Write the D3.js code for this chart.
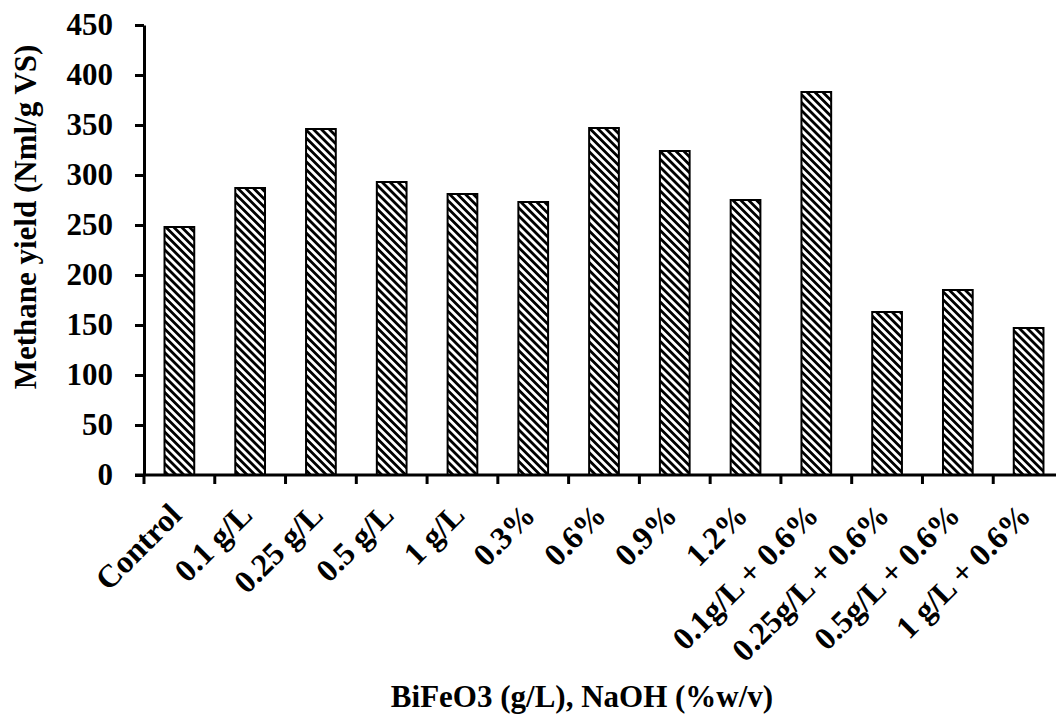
<!DOCTYPE html>
<html>
<head>
<meta charset="utf-8">
<script src="https://cdn.jsdelivr.net/npm/d3@7"></script>
<style>
  body { margin: 0; background: #fff; }
  svg text { font-family: "Liberation Serif", "Times New Roman", serif; font-weight: bold; fill: #000; }
</style>
</head>
<body>
<script>
var width = 1056;
var height = 721;

// data
var categories = ['Control', '0.1 g/L', '0.25 g/L', '0.5 g/L', '1 g/L', '0.3%', '0.6%', '0.9%', '1.2%',
                  '0.1g/L + 0.6%', '0.25g/L + 0.6%', '0.5g/L + 0.6%', '1 g/L + 0.6%'];
var methaneYield = [248, 287, 346, 293, 281, 273, 347, 324, 275, 383, 163, 185, 147];
var yTicks = [0, 50, 100, 150, 200, 250, 300, 350, 400, 450];

var svg = d3.select('body').append('svg')
            .attr('width', width)
            .attr('height', height);

// hatch pattern, "\" stripes
var pat = svg.append('defs').append('pattern')
    .attr('id', 'hatch')
    .attr('patternUnits', 'userSpaceOnUse')
    .attr('width', 5.6)
    .attr('height', 8)
    .attr('patternTransform', 'rotate(-45)');
pat.append('rect').attr('width', 5.6).attr('height', 8).attr('fill', '#fff');
pat.append('rect').attr('width', 2.8).attr('height', 8).attr('fill', '#000');

// the plot runs past the right edge of the picture
var x = d3.scaleBand()
    .domain(categories)
    .range([144, 1064]);

var y = d3.scaleLinear()
    .domain([0, 450])
    .range([475, 25]);

var barW = x.bandwidth() * 0.42;

// bars
svg.append('g').selectAll('rect')
    .data(methaneYield)
    .enter().append('rect')
      .attr('x', function(d, i) { return x(categories[i]) + (x.bandwidth() - barW) / 2; })
      .attr('y', function(d) { return y(d); })
      .attr('width', barW)
      .attr('height', function(d) { return y(0) - y(d); })
      .attr('fill', 'url(#hatch)')
      .attr('stroke', '#000')
      .attr('stroke-width', 2);

// y axis
var yAxis = svg.append('g')
    .attr('transform', 'translate(144,0)')
    .call(d3.axisLeft(y).tickValues(yTicks).tickSize(9).tickSizeOuter(0).tickPadding(22));
yAxis.select('.domain').attr('stroke-width', 3);
yAxis.selectAll('.tick line').attr('stroke-width', 3);
yAxis.selectAll('.tick text')
    .style('font-size', '31px')
    .style('font-family', '"Liberation Serif", serif')
    .style('font-weight', 'bold');

// x axis line with boundary ticks
svg.append('line')
    .attr('x1', 135).attr('x2', 1064)
    .attr('y1', y(0)).attr('y2', y(0))
    .attr('stroke', '#000').attr('stroke-width', 3);

svg.append('g').selectAll('line')
    .data(categories)
    .enter().append('line')
      .attr('x1', function(d) { return x(d); })
      .attr('x2', function(d) { return x(d); })
      .attr('y1', y(0))
      .attr('y2', y(0) + 9)
      .attr('stroke', '#000')
      .attr('stroke-width', 3);

// rotated category labels
svg.append('g').selectAll('text')
    .data(categories)
    .enter().append('text')
      .attr('text-anchor', 'end')
      .attr('transform', function(d) {
        return 'translate(' + (x(d) + x.bandwidth() / 2 + 4) + ',517) rotate(-45)';
      })
      .style('font-size', '32px')
      .text(function(d) { return d; });

// axis titles
svg.append('text')
    .attr('text-anchor', 'middle')
    .attr('transform', 'translate(36,217) rotate(-90)')
    .style('font-size', '31px')
    .text('Methane yield (Nml/g VS)');

svg.append('text')
    .attr('text-anchor', 'middle')
    .attr('x', 582)
    .attr('y', 707)
    .style('font-size', '31px')
    .text('BiFeO3 (g/L), NaOH (%w/v)');
</script>
</body>
</html>
